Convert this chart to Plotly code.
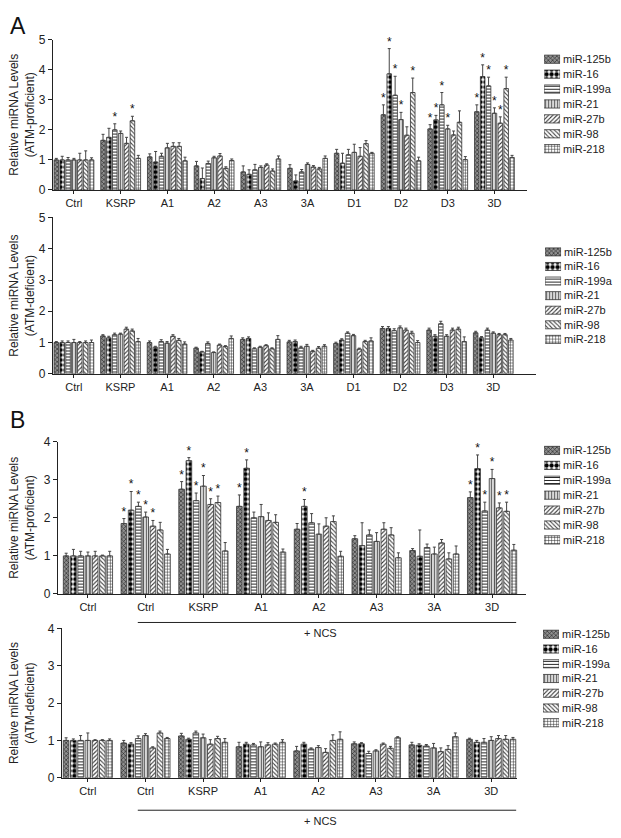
import plotly.graph_objects as go

W, H = 621, 838
OFF = 8  # page body margin around the figure
FW, FH = W - 2 * OFF, H - 2 * OFF
FONT = "Liberation Sans"

MIRNAS = ["miR-125b", "miR-16", "miR-199a", "miR-21", "miR-27b", "miR-98", "miR-218"]

A_GROUPS = ["Ctrl", "KSRP", "A1", "A2", "A3", "3A", "D1", "D2", "D3", "3D"]
B_GROUPS = ["Ctrl", "Ctrl", "KSRP", "A1", "A2", "A3", "3A", "3D"]

# rows = groups, columns = miRNAs
A_PROF_VALS = [
    [1.0, 1.0, 1.0, 1.0, 1.0, 1.0, 1.0],
    [1.65, 1.75, 2.0, 1.88, 1.55, 2.3, 1.05],
    [1.1, 0.93, 1.12, 1.4, 1.45, 1.45, 0.97],
    [0.8, 0.38, 0.88, 1.07, 1.13, 0.72, 0.98],
    [0.6, 0.52, 0.67, 0.75, 0.83, 0.63, 1.03],
    [0.72, 0.3, 0.6, 0.85, 0.76, 0.7, 1.05],
    [1.22, 0.89, 1.17, 1.25, 1.12, 1.54, 1.22],
    [2.5, 3.86, 3.15, 2.34, 1.82, 3.24, 0.97],
    [2.03, 2.33, 2.83, 2.03, 1.83, 2.25, 1.01],
    [2.6, 3.77, 3.46, 2.55, 2.22, 3.37, 1.08],
]
A_PROF_ERR = [
    [0.05, 0.12, 0.08, 0.05, 0.22, 0.3, 0.07],
    [0.2, 0.3, 0.2, 0.08, 0.2, 0.15, 0.1],
    [0.1, 0.35, 0.1, 0.15, 0.12, 0.12, 0.12],
    [0.15, 0.35, 0.08, 0.05, 0.08, 0.05, 0.05],
    [0.2, 0.15, 0.18, 0.05, 0.04, 0.07, 0.1],
    [0.12, 0.2, 0.08, 0.05, 0.05, 0.05, 0.08],
    [0.13, 0.33, 0.18, 0.27, 0.29, 0.1, 0.03],
    [0.33, 0.84, 0.63, 0.24, 0.28, 0.48, 0.12],
    [0.14, 0.15, 0.41, 0.12, 0.13, 0.38, 0.1],
    [0.23, 0.39, 0.29, 0.18, 0.21, 0.38, 0.07],
]
A_PROF_STARS = [[], [2, 5], [], [], [], [], [], [0, 1, 2, 3, 5], [0, 1, 2, 3], [0, 1, 2, 3, 4, 5]]

A_DEF_VALS = [
    [1.0, 1.0, 1.0, 1.0, 1.0, 1.0, 1.0],
    [1.21, 1.15, 1.25, 1.27, 1.43, 1.37, 1.03],
    [1.0, 0.85, 1.03, 0.98, 1.2, 1.07, 0.95],
    [0.82, 0.7, 0.97, 0.68, 0.92, 0.87, 1.13],
    [1.1, 1.13, 0.8, 0.85, 0.9, 0.8, 1.1],
    [1.02, 1.03, 0.83, 0.88, 0.72, 0.82, 0.88],
    [0.97, 1.08, 1.3, 1.22, 0.79, 1.03, 1.05],
    [1.45, 1.45, 1.38, 1.47, 1.4, 1.3, 1.0],
    [1.4, 1.2, 1.6, 1.2, 1.4, 1.43, 1.03],
    [1.31, 1.15, 1.4, 1.3, 1.25, 1.25, 1.08],
]
A_DEF_ERR = [
    [0.03, 0.05, 0.05, 0.1, 0.03, 0.05, 0.08],
    [0.04, 0.05, 0.05, 0.03, 0.06, 0.06, 0.1],
    [0.05, 0.03, 0.06, 0.05, 0.05, 0.06, 0.07],
    [0.03, 0.02, 0.05, 0.02, 0.03, 0.03, 0.08],
    [0.05, 0.05, 0.03, 0.03, 0.03, 0.03, 0.12],
    [0.05, 0.05, 0.05, 0.06, 0.03, 0.05, 0.05],
    [0.04, 0.04, 0.04, 0.04, 0.03, 0.04, 0.1],
    [0.06, 0.06, 0.06, 0.06, 0.06, 0.06, 0.06],
    [0.06, 0.05, 0.08, 0.05, 0.06, 0.06, 0.15],
    [0.05, 0.04, 0.06, 0.04, 0.04, 0.04, 0.05],
]

B_PROF_VALS = [
    [1.0, 1.0, 1.0, 1.0, 1.0, 1.0, 1.0],
    [1.85, 2.2, 2.3, 2.02, 1.78, 1.68, 1.05],
    [2.75, 3.5, 2.45, 2.83, 2.35, 2.4, 1.13],
    [2.3, 3.3, 2.0, 2.03, 1.93, 1.88, 1.1],
    [1.7, 2.3, 1.87, 1.57, 1.78, 1.9, 0.99],
    [1.45, 1.27, 1.55, 1.38, 1.7, 1.55, 0.95],
    [1.14, 0.99, 1.22, 1.05, 1.34, 0.92, 1.05],
    [2.53, 3.29, 2.18, 3.03, 2.26, 2.17, 1.15],
]
B_PROF_ERR = [
    [0.07, 0.17, 0.12, 0.1, 0.12, 0.02, 0.12],
    [0.13, 0.49, 0.11, 0.13, 0.15, 0.2, 0.12],
    [0.2, 0.08, 0.2, 0.28, 0.15, 0.17, 0.22],
    [0.3, 0.22, 0.15, 0.32, 0.2, 0.2, 0.08],
    [0.15, 0.18, 0.24, 0.27, 0.22, 0.15, 0.13],
    [0.08, 0.6, 0.13, 0.23, 0.17, 0.19, 0.13],
    [0.05, 0.69, 0.09, 0.18, 0.09, 0.16, 0.21],
    [0.15, 0.36, 0.23, 0.24, 0.13, 0.24, 0.15],
]
B_PROF_STARS = [[], [0, 1, 2, 3, 4], [0, 1, 2, 3, 4, 5], [0, 1], [1], [], [], [0, 1, 2, 3, 4, 5]]

B_DEF_VALS = [
    [1.0, 1.0, 1.0, 1.0, 1.0, 1.0, 1.0],
    [0.93, 0.9, 1.05, 1.13, 0.8, 1.2, 1.05],
    [1.12, 1.03, 1.2, 1.07, 0.9, 1.05, 0.95],
    [0.83, 0.9, 0.88, 0.83, 0.88, 0.9, 0.95],
    [0.72, 0.9, 0.77, 0.81, 0.68, 1.0, 1.03],
    [0.91, 0.91, 0.65, 0.72, 0.9, 0.79, 1.07],
    [0.88, 0.87, 0.85, 0.8, 0.7, 0.76, 1.1],
    [1.03, 0.95, 0.95, 1.0, 1.05, 1.03, 1.03],
]
B_DEF_ERR = [
    [0.07, 0.04, 0.13, 0.2, 0.02, 0.02, 0.04],
    [0.07, 0.04, 0.07, 0.05, 0.03, 0.05, 0.03],
    [0.07, 0.03, 0.05, 0.1, 0.12, 0.06, 0.1],
    [0.12, 0.05, 0.04, 0.13, 0.06, 0.03, 0.07],
    [0.12, 0.05, 0.03, 0.05, 0.1, 0.15, 0.2],
    [0.05, 0.03, 0.06, 0.03, 0.03, 0.05, 0.03],
    [0.07, 0.04, 0.04, 0.12, 0.1, 0.1, 0.1],
    [0.03, 0.05, 0.1, 0.1, 0.08, 0.1, 0.05],
]

# styling for each miRNA: (shape, fgcolor, bgcolor, size, solidity)
PATTERNS = [
    ("x", "#222222", "#8f8f8f", 3, 0.35),
    (".", "#000000", "#ffffff", 5, 0.6),
    ("-", "#111111", "#ffffff", 3, 0.3),
    ("|", "#555555", "#d8d8d8", 3, 0.3),
    ("/", "#333333", "#ffffff", 3, 0.35),
    ("\\", "#444444", "#ffffff", 3, 0.35),
    ("+", "#222222", "#ffffff", 3, 0.3),
]

BARGAP = 0.12
BARGROUPGAP = 0.22


def px_x(p):
    return (p - OFF) / FW


def px_y(p):
    return 1 - (p - OFF) / FH


def pattern_marker(k):
    shape, fg, bg, sz, sol = PATTERNS[k]
    return dict(color=bg, line=dict(color="#333333", width=0.8),
                pattern=dict(shape=shape, fgcolor=fg, bgcolor=bg, size=sz,
                             solidity=sol, fillmode="replace"))


# panel layouts (reference pixel boxes): x0, x1, ytop, ybottom; key: x0, x1, first item y, last item y
PANELS = [
    dict(vals=A_PROF_VALS, err=A_PROF_ERR, stars=A_PROF_STARS, groups=A_GROUPS,
         box=(53, 528, 33, 186), ymax=5, xr=[-0.45, 9.7], title="(ATM-proficient)",
         leg=(545, 561, 53, 144)),
    dict(vals=A_DEF_VALS, err=A_DEF_ERR, stars=None, groups=A_GROUPS,
         box=(53, 537, 214, 373), ymax=5, xr=[-0.45, 9.92], title="(ATM-deficient)",
         leg=(546, 562, 249, 338)),
    dict(vals=B_PROF_VALS, err=B_PROF_ERR, stars=B_PROF_STARS, groups=B_GROUPS,
         box=(58, 527, 442, 597), ymax=4, xr=[-0.52, 7.59], title="(ATM-proficient)",
         leg=(545, 561, 451, 542)),
    dict(vals=B_DEF_VALS, err=B_DEF_ERR, stars=None, groups=B_GROUPS,
         box=(62, 518, 632, 784), ymax=4, xr=[-0.45, 7.45], title="(ATM-deficient)",
         leg=(544, 560, 638, 728)),
]

fig = go.Figure()
layout = dict(
    width=FW, height=FH, margin=dict(l=0, r=0, t=0, b=0),
    paper_bgcolor="white", plot_bgcolor="white",
    barmode="group", bargap=BARGAP, bargroupgap=BARGROUPGAP,
    font=dict(family=FONT, size=11, color="#222222"),
    showlegend=False,
)
annotations = []
shapes = []

nser = len(MIRNAS)
slot = (1 - BARGAP) / nser
npan = len(PANELS)

for pi, P in enumerate(PANELS):
    ax = "" if pi == 0 else str(pi + 1)
    xref, yref = "x" + ax, "y" + ax
    x0, x1, yt, yb = P["box"]
    xs = list(range(len(P["groups"])))
    for k in range(nser):
        yv = [row[k] for row in P["vals"]]
        ye = [row[k] for row in P["err"]]
        fig.add_trace(go.Bar(
            x=xs, y=yv, name=MIRNAS[k], xaxis=xref, yaxis=yref,
            marker=pattern_marker(k),
            error_y=dict(type="data", array=ye, arrayminus=[0] * len(ye), symmetric=False,
                         color="#444444", thickness=1, width=1.5),
        ))
    if P["stars"]:
        sx, sy = [], []
        for g, lst in enumerate(P["stars"]):
            for k in lst:
                sx.append(g - (1 - BARGAP) / 2 + (k + 0.5) * slot)
                sy.append(P["vals"][g][k] + P["err"][g][k])
        fig.add_trace(go.Scatter(
            x=sx, y=sy, mode="text", text=["*"] * len(sx), textposition="top center",
            textfont=dict(size=12, color="#111111", family=FONT),
            xaxis=xref, yaxis=yref, hoverinfo="skip", cliponaxis=False,
        ))

    layout["xaxis" + ax] = dict(
        domain=[px_x(x0), px_x(x1)], anchor=yref, range=P["xr"],
        tickmode="array", tickvals=xs, ticktext=P["groups"],
        showline=True, linecolor="#222222", linewidth=1, ticks="outside", ticklen=3,
        tickcolor="#222222", showgrid=False, zeroline=False, fixedrange=True,
        tickfont=dict(size=11),
    )
    layout["yaxis" + ax] = dict(
        domain=[px_y(yb), px_y(yt)], anchor=xref, range=[0, P["ymax"]],
        tickmode="linear", tick0=0, dtick=1,
        showline=True, linecolor="#222222", linewidth=1, ticks="outside", ticklen=4,
        tickcolor="#222222", showgrid=False, zeroline=False, fixedrange=True,
        tickfont=dict(size=12),
    )
    annotations.append(dict(
        text="Relative miRNA Levels<br>" + P["title"], textangle=-90,
        xref="paper", yref="paper", x=px_x(6), y=px_y((yt + yb) / 2),
        xanchor="left", yanchor="middle", showarrow=False, borderpad=0,
        font=dict(size=12, family=FONT, color="#222222"),
    ))

    # key for this panel: one swatch per miRNA on a small category axis
    lax = str(npan + pi + 1)
    lx0, lx1, ly0, ly1 = P["leg"]
    step = (ly1 - ly0) / (nser - 1)
    for k in range(nser):
        fig.add_trace(go.Bar(
            y=[MIRNAS[k]], x=[1], orientation="h", width=0.55, offsetgroup="key",
            xaxis="x" + lax, yaxis="y" + lax, hoverinfo="skip", name=MIRNAS[k],
            marker=pattern_marker(k),
        ))
    layout["xaxis" + lax] = dict(
        domain=[px_x(lx0), px_x(lx1)], anchor="y" + lax, range=[0, 1],
        visible=False, fixedrange=True,
    )
    layout["yaxis" + lax] = dict(
        domain=[px_y(ly1 + step / 2), px_y(ly0 - step / 2)], anchor="x" + lax,
        type="category", categoryorder="array", categoryarray=MIRNAS, autorange="reversed",
        side="right", showline=False, showgrid=False, zeroline=False, ticks="",
        ticklabelstandoff=2, tickfont=dict(size=11, color="#222222"), fixedrange=True,
    )

# panel letters
for letter, ypx in [("A", 4), ("B", 405)]:
    annotations.append(dict(text=letter, xref="paper", yref="paper", x=px_x(8), y=px_y(ypx),
                            xanchor="left", yanchor="top", showarrow=False,
                            font=dict(size=23, family=FONT, color="#111111")))

# + NCS brackets under panel B charts
for lineY, textY in [(626, 637), (817, 828)]:
    shapes.append(dict(type="line", xref="paper", yref="paper",
                       x0=px_x(138), x1=px_x(517), y0=px_y(lineY), y1=px_y(lineY),
                       line=dict(color="#222222", width=1)))
    annotations.append(dict(text="+ NCS", xref="paper", yref="paper", x=px_x(302),
                            y=px_y(textY), xanchor="left", yanchor="middle", showarrow=False,
                            font=dict(size=11, family=FONT, color="#222222")))

layout["annotations"] = annotations
layout["shapes"] = shapes
fig.update_layout(**layout)

fig.write_html("out.html")
